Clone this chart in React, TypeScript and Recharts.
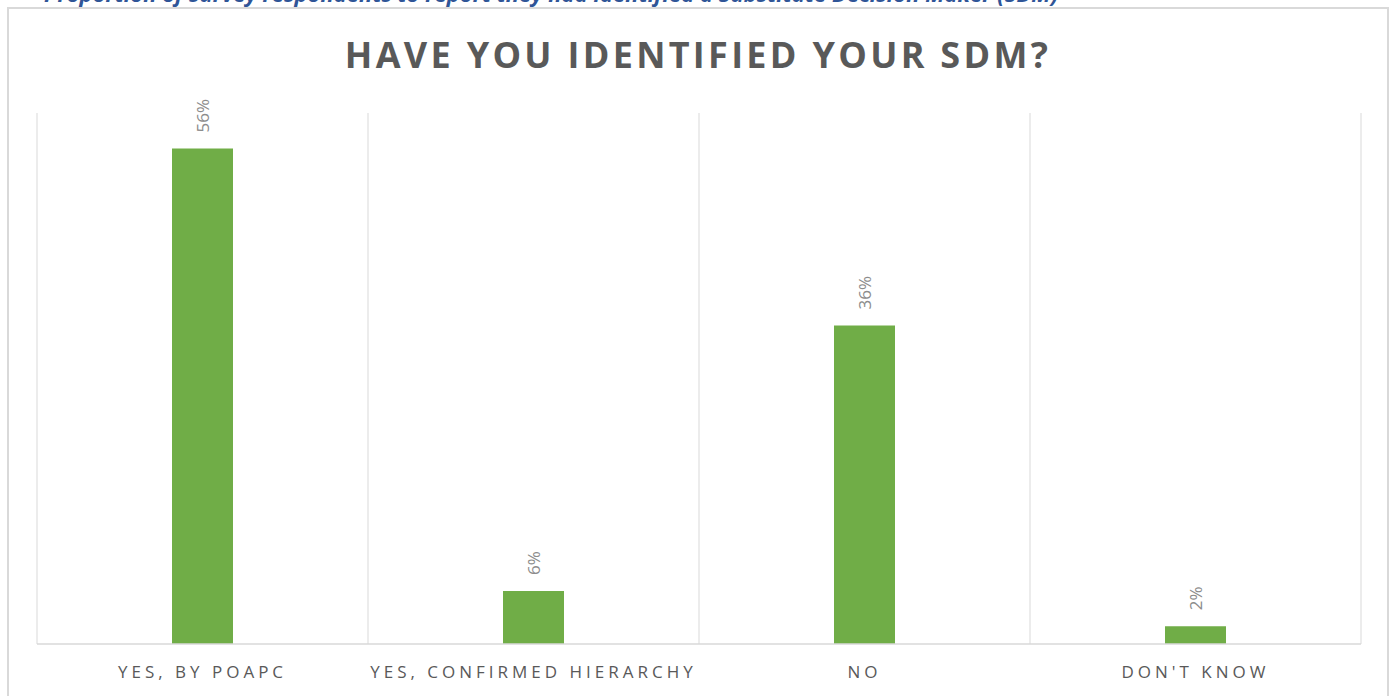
import React from "react";
import { BarChart, Bar, XAxis, YAxis, CartesianGrid, LabelList } from "recharts";

const categories = ["YES, BY POAPC", "YES, CONFIRMED HIERARCHY", "NO", "DON'T KNOW"];
const shares = [56, 6, 36, 2];

const data = categories.map((name, i) => ({ name, value: shares[i] }));

const GREEN = "#70AD47";
const GRID = "#d9d9d9";

const RotatedLabel = (props: any) => {
  const { x, y, width, value } = props;
  const cx = x + width / 2;
  const ty = y - 16;
  return (
    <text
      x={cx}
      y={ty}
      transform={`rotate(-90 ${cx} ${ty})`}
      textAnchor="start"
      dominantBaseline="central"
      fill="#8c8c8c"
      fontSize={17}
      fontFamily="Open Sans"
    >
      {value}%
    </text>
  );
};

const boundaries = ({ offset }: any) => {
  const pts: number[] = [];
  for (let i = 0; i <= categories.length; i++) {
    pts.push(offset.left + (offset.width * i) / categories.length);
  }
  return pts;
};

export default function App() {
  return (
    <div
      style={{
        position: "absolute",
        left: 0,
        top: 0,
        width: 1396,
        height: 696,
        overflow: "hidden",
        background: "#fff",
        fontFamily: "Open Sans",
      }}
    >
      <div
        style={{
          position: "absolute",
          left: 44,
          top: -22,
          fontSize: 22,
          fontStyle: "italic",
          fontWeight: 700,
          color: "#2F5597",
          whiteSpace: "nowrap",
        }}
      >
        Proportion of survey respondents to report they had identified a Substitute Decision Maker (SDM)
      </div>
      <div
        style={{
          position: "absolute",
          left: 7,
          top: 7,
          width: 1378,
          height: 700,
          border: `2px solid ${GRID}`,
        }}
      />
      <div
        style={{
          position: "absolute",
          left: 0,
          top: 30,
          width: 1396,
          textAlign: "center",
          fontSize: 36,
          fontWeight: 700,
          letterSpacing: 3.3,
          color: "#595959",
        }}
      >
        HAVE YOU IDENTIFIED YOUR SDM?
      </div>
      <div style={{ position: "absolute", left: 8, top: 8 }}>
        <BarChart
          width={1380}
          height={688}
          data={data}
          margin={{ top: 105, right: 27, left: 29, bottom: 0 }}
          barSize={61}
        >
          <CartesianGrid
            horizontal={false}
            stroke={GRID}
            verticalCoordinatesGenerator={boundaries}
          />
          <XAxis
            dataKey="name"
            height={52}
            axisLine={{ stroke: GRID, strokeWidth: 1.5 }}
            tickLine={false}
            tick={{ fill: "#595959", fontSize: 17, letterSpacing: 4 }}
            tickMargin={16}
            interval={0}
          />
          <YAxis hide domain={[0, 60]} />
          <Bar dataKey="value" fill={GREEN} isAnimationActive={false}>
            <LabelList dataKey="value" content={<RotatedLabel />} />
          </Bar>
        </BarChart>
      </div>
    </div>
  );
}
